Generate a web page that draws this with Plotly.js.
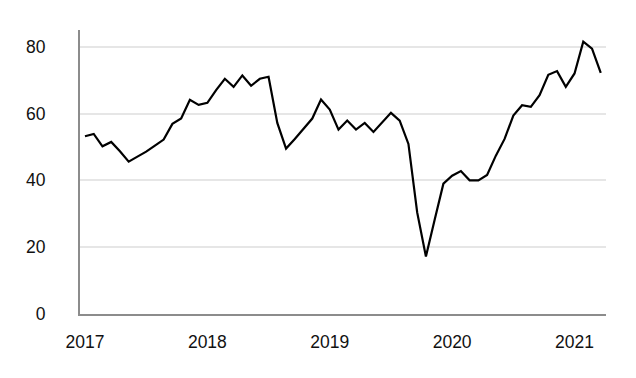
<!DOCTYPE html>
<html>
<head>
<meta charset="utf-8">
<script src="https://cdn.plot.ly/plotly-3.0.1.min.js"></script>
<style>
  html, body { margin: 0; padding: 0; background: #ffffff; }
  #chart { width: 636px; height: 378px; }
</style>
</head>
<body>
<div id="chart"></div>
<script>
// Period index (one entry per observation)
const periods = [0,1,2,3,4,5,6,7,8,9,10,11,12,13,14,15,16,17,18,19,
                 20,21,22,23,24,25,26,27,28,29,30,31,32,33,34,35,36,37,38,39,
                 40,41,42,43,44,45,46,47,48,49,50,51,52,53,54,55,56,57,58,59];
// Series values
const values = [53.2,53.9,50.2,51.5,48.7,45.6,47.1,48.6,50.4,52.2,
                56.9,58.5,64.1,62.6,63.2,67.0,70.4,68.0,71.4,68.3,
                70.4,71.0,57.2,49.5,52.4,55.6,58.5,64.2,61.2,55.2,
                57.9,55.2,57.2,54.5,57.5,60.2,57.9,50.9,30.4,17.2,
                28.2,39.0,41.4,42.8,40.0,40.0,41.6,47.4,52.4,59.4,
                62.5,62.0,65.5,71.6,72.7,68.0,72.0,81.5,79.4,72.2];
// X tick positions and labels
const xTickPositions = [0,14,28,42,56];
const xTickLabels = ['2017','2018','2019','2020','2021'];
const yTickValues = [0,20,40,60,80];

const trace = {
  x: periods,
  y: values,
  type: 'scatter',
  mode: 'lines',
  line: { color: '#000000', width: 2.2 },
  hoverinfo: 'skip'
};

const layout = {
  width: 636,
  height: 378,
  margin: { l: 80, r: 30, t: 30, b: 64 },
  paper_bgcolor: '#ffffff',
  plot_bgcolor: '#ffffff',
  showlegend: false,
  font: { family: 'Liberation Sans, Arial, sans-serif', size: 17.5, color: '#111111' },
  xaxis: {
    type: 'linear',
    range: [-0.57, 59.6],
    tickvals: xTickPositions,
    ticktext: xTickLabels,
    showgrid: false,
    zeroline: false,
    showline: true,
    linecolor: '#8c8c8c',
    linewidth: 2,
    ticks: '',
    ticklabelstandoff: 11,
    fixedrange: true
  },
  yaxis: {
    range: [0, 85],
    tickvals: yTickValues,
    showgrid: true,
    gridcolor: '#e6e6e6',
    gridwidth: 2,
    zeroline: false,
    showline: true,
    linecolor: '#8c8c8c',
    linewidth: 2,
    ticks: '',
    ticklabelstandoff: 29,
    fixedrange: true
  }
};

Plotly.newPlot('chart', [trace], layout, { displayModeBar: false, staticPlot: true });
</script>
</body>
</html>
